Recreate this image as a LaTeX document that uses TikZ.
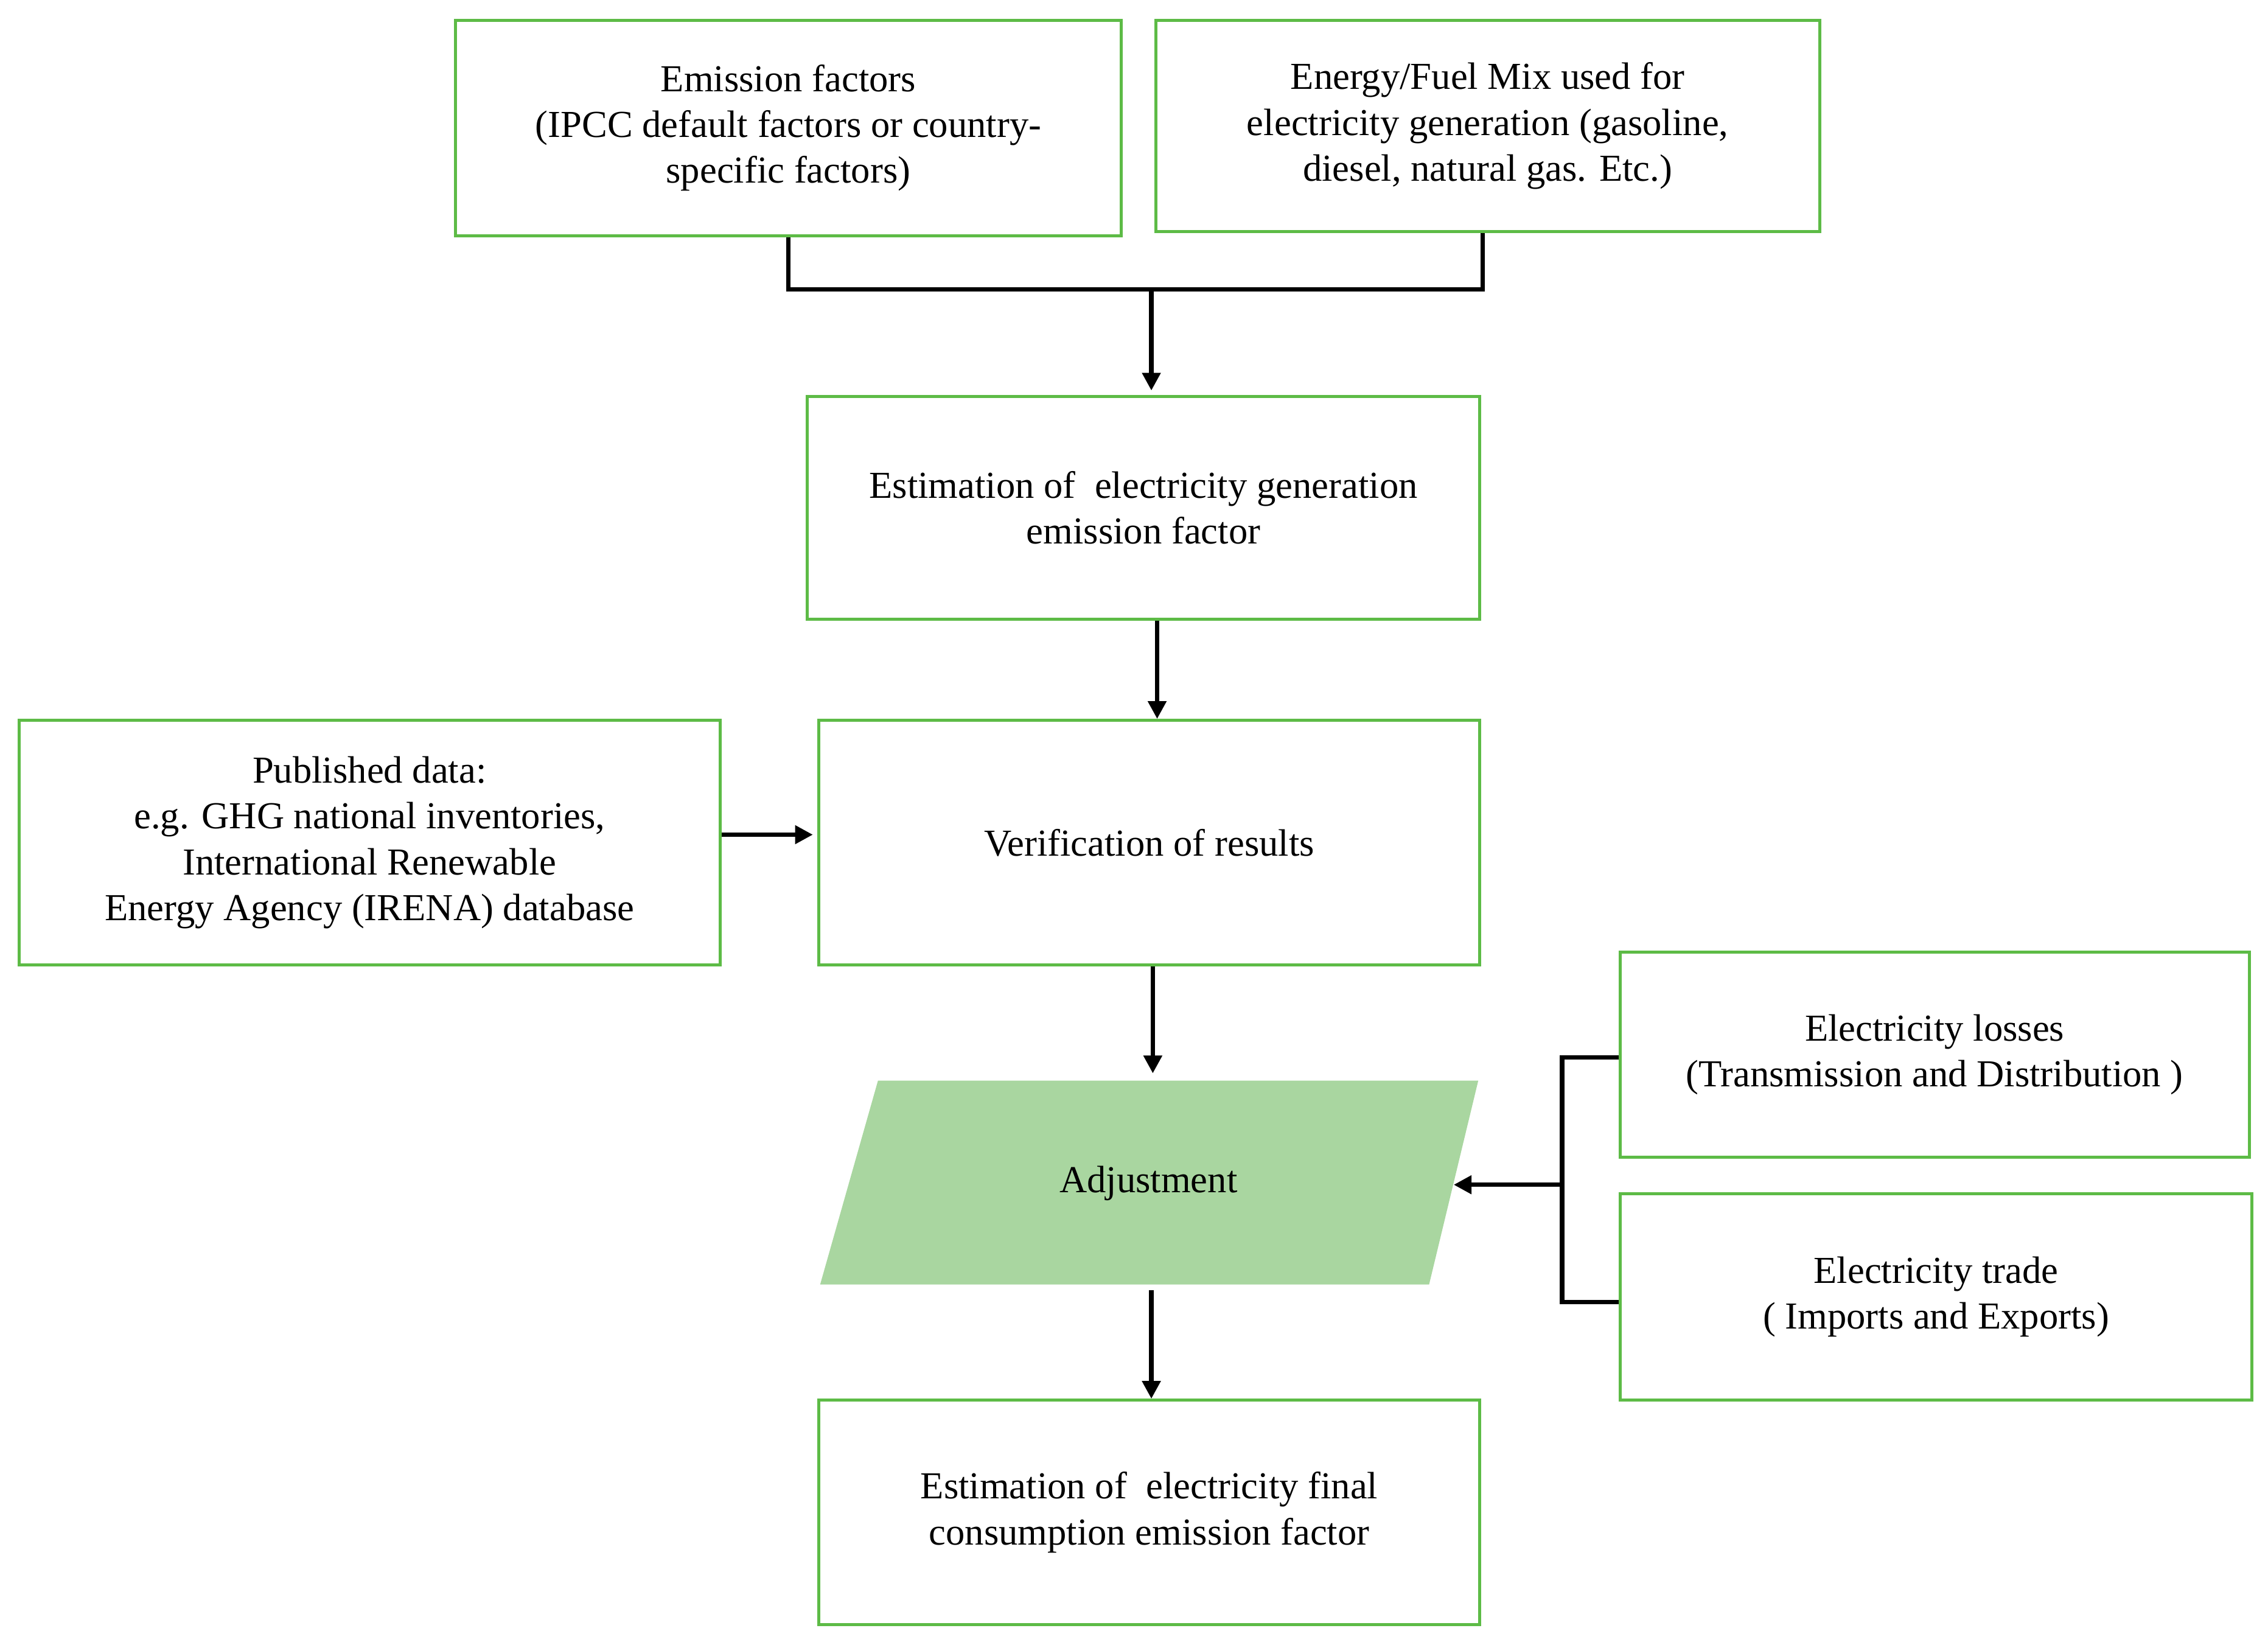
\documentclass[tikz,border=0pt]{standalone}
\usepackage{fontspec}
\setmainfont{Liberation Serif}
\usetikzlibrary{arrows.meta}
\definecolor{gline}{HTML}{5DBB46}
\definecolor{gfill}{HTML}{A9D6A0}
\begin{document}
\begin{tikzpicture}[x=0.02cm,y=-0.02cm,
 box/.style={draw=gline,line width=1.2pt,align=center,inner sep=0pt,font=\fontsize{15}{18}\selectfont},
 con/.style={line width=1.8pt,black},
 arr/.style={con,-{Triangle[length=7pt,width=7pt]}}]
\useasboundingbox (0,0) rectangle (1568,1137);
\node[box,minimum width=9.2cm,minimum height=2.98cm] (ef) at (545,88.5) {Emission factors\\(IPCC default factors or country-\\specific factors)};
\node[box,minimum width=9.18cm,minimum height=2.92cm] (em) at (1028.5,87) {Energy/Fuel Mix used for\\electricity generation (gasoline,\\diesel, natural gas. Etc.)};
\node[box,minimum width=9.3cm,minimum height=3.08cm] (gen) at (790.5,351) {Estimation of\ \ electricity generation\\emission factor};
\node[box,minimum width=9.7cm,minimum height=3.38cm] (pub) at (255.5,582.5) {Published data:\\e.g. GHG national inventories,\\International Renewable\\Energy Agency (IRENA) database};
\node[box,minimum width=9.14cm,minimum height=3.38cm] (ver) at (794.5,582.5) {Verification of results};
\node[box,minimum width=8.7cm,minimum height=2.84cm] (loss) at (1337.5,729) {Electricity losses\\(Transmission and Distribution )};
\node[box,minimum width=8.74cm,minimum height=2.86cm] (trade) at (1338.5,896.5) {Electricity trade\\( Imports and Exports)};
\node[box,minimum width=9.14cm,minimum height=3.1cm] (fin) at (794.5,1045.5) {Estimation of\ \ electricity final\\consumption emission factor};
\fill[gfill] (607,747) -- (1022,747) -- (988,888) -- (567,888) -- cycle;
\node[font=\fontsize{15}{18}\selectfont] (adj) at (794,818) {Adjustment};
\coordinate (j) at (796,200);
\coordinate (br) at (1080,819);
\draw[con] (ef.south -| 545,0) -- (545,200) -- (1025,200) -- (em.south -| 1025,0);
\draw[arr] (j) -- (796,270);
\draw[arr] (gen.south -| 800,0) -- (ver.north -| 800,0);
\draw[arr] (pub.east |- 0,577) -- (562,577);
\draw[arr] (ver.south -| 797,0) -- (797,742);
\draw[con] (loss.west |- 0,731) -- (1080,731) -- (1080,900) -- (trade.west |- 0,900);
\draw[arr] (br) -- (1005,819);
\draw[arr] (796,892) -- (fin.north -| 796,0);
\end{tikzpicture}
\end{document}
